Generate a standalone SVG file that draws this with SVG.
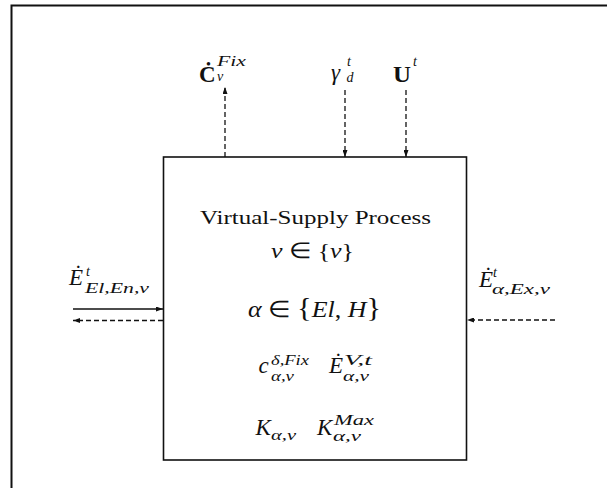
<svg xmlns="http://www.w3.org/2000/svg" width="607" height="488" viewBox="0 0 607 488">
<style>
.ln{stroke:#111;fill:none;stroke-width:1.3}
.dash{stroke-dasharray:5 3}
.t{font-family:"Liberation Serif","Times New Roman",serif;fill:#111}
.m{font-family:"Liberation Serif","Times New Roman",serif;font-style:italic;fill:#111;font-size:23px}
.b{font-family:"Liberation Serif","Times New Roman",serif;font-weight:bold;fill:#111;font-size:23px}
.s{font-family:"Liberation Serif","Times New Roman",serif;font-style:italic;fill:#111;font-size:14px}
</style>
<defs>
<marker id="ah" viewBox="0 0 7 5" refX="7" refY="2.5" markerWidth="7" markerHeight="5" markerUnits="userSpaceOnUse" orient="auto">
<path d="M0,0 L7,2.5 L0,5 z" fill="#111"/>
</marker>
</defs>
<rect width="607" height="488" fill="#fff"/>
<g id="frame">
<path d="M11.5,488 V5.5 H607" stroke="#111" stroke-width="2" fill="none"/>
</g>
<g id="process">
<rect x="163.5" y="157" width="303" height="303" fill="none" stroke="#111" stroke-width="1.6"/>
<text class="t" x="200" y="223.5" font-size="18" textLength="231" lengthAdjust="spacingAndGlyphs">Virtual-Supply Process</text>
<text class="t" x="271" y="258" font-size="22" textLength="83" lengthAdjust="spacingAndGlyphs"><tspan font-style="italic">v</tspan> ∈ {<tspan font-style="italic">v</tspan>}</text>
<text class="t" x="248" y="316.5" font-size="23" textLength="133" lengthAdjust="spacingAndGlyphs"><tspan font-style="italic">α</tspan> ∈ <tspan font-size="27">{</tspan><tspan font-style="italic">El</tspan>, <tspan font-style="italic">H</tspan><tspan font-size="27">}</tspan></text>
<text class="m" x="258.5" y="373">c</text>
<text class="s" x="271" y="365" textLength="38" lengthAdjust="spacingAndGlyphs">δ,Fix</text>
<text class="s" x="271" y="381" textLength="23" lengthAdjust="spacingAndGlyphs">α,v</text>
<text class="m" x="329" y="373">Ė</text>
<text class="s" x="344" y="365" textLength="28" lengthAdjust="spacingAndGlyphs">V,t</text>
<text class="s" x="343" y="381" textLength="26" lengthAdjust="spacingAndGlyphs">α,v</text>
<text class="m" x="255.5" y="435">K</text>
<text class="s" x="271" y="440" textLength="25" lengthAdjust="spacingAndGlyphs">α,v</text>
<text class="m" x="317" y="435">K</text>
<text class="s" x="334" y="424.5" textLength="40" lengthAdjust="spacingAndGlyphs">Max</text>
<text class="s" x="333" y="441" textLength="28" lengthAdjust="spacingAndGlyphs">α,v</text>
</g>
<g id="label-cfix">
<text class="b" x="199" y="81.5">Ċ</text>
<text class="s" x="217" y="66" textLength="29" lengthAdjust="spacingAndGlyphs">Fix</text>
<text class="s" x="217" y="81">v</text>
</g>
<g id="label-gamma">
<text class="m" x="331" y="80">γ</text>
<text class="s" x="347" y="66">t</text>
<text class="s" x="346.5" y="82">d</text>
</g>
<g id="label-u">
<text class="b" x="393" y="81.5" textLength="18" lengthAdjust="spacingAndGlyphs">U</text>
<text class="s" x="413" y="66">t</text>
</g>
<g id="label-en">
<text class="m" x="69" y="285">Ė</text>
<text class="s" x="86" y="276">t</text>
<text class="s" x="85" y="292.5" textLength="64" lengthAdjust="spacingAndGlyphs">El,En,v</text>
</g>
<g id="label-ex">
<text class="m" x="479" y="286.5">Ė</text>
<text class="s" x="493" y="277">t</text>
<text class="s" x="492" y="294" textLength="58" lengthAdjust="spacingAndGlyphs">α,Ex,v</text>
</g>
<g id="connectors">
<line class="ln dash" x1="225" y1="157" x2="225" y2="87" marker-end="url(#ah)"/>
<line class="ln dash" x1="345" y1="90" x2="345" y2="157" marker-end="url(#ah)"/>
<line class="ln dash" x1="406" y1="90" x2="406" y2="157" marker-end="url(#ah)"/>
<line class="ln" x1="73" y1="309" x2="163" y2="309" marker-end="url(#ah)"/>
<line class="ln dash" x1="163" y1="320.5" x2="73" y2="320.5" marker-end="url(#ah)"/>
<line class="ln dash" x1="555" y1="320" x2="467" y2="320" marker-end="url(#ah)"/>
</g>
</svg>
